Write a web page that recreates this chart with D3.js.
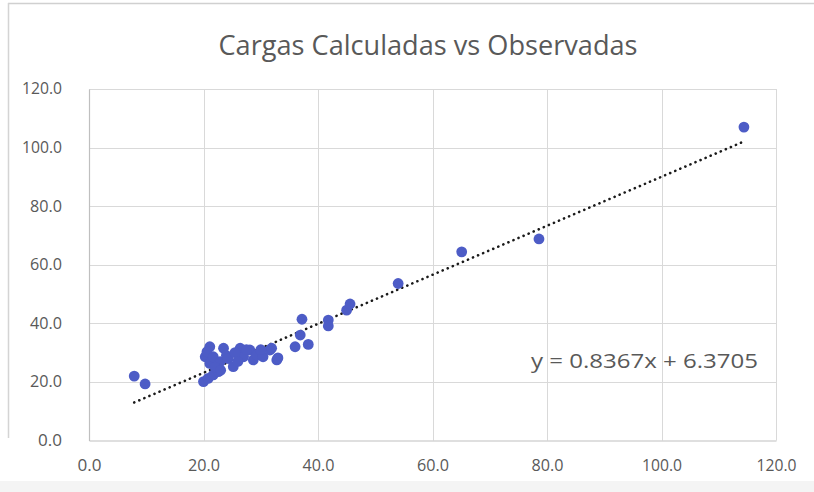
<!DOCTYPE html>
<html>
<head>
<meta charset="utf-8">
<script src="https://cdn.jsdelivr.net/npm/d3@7"></script>
<style>
  html, body { margin: 0; padding: 0; background: #fff; }
  svg { display: block; }
</style>
</head>
<body>
<svg id="chart" width="814" height="492"></svg>
<script>
// Observed loads (x) and calculated loads (y)
const observadas = [7.9, 9.8, 20.0, 20.8, 21.7, 22.6, 20.3, 21.1, 20.6, 21.1, 21.7, 22.9, 23.5, 24.0, 24.3,
  25.2, 26.4, 27.0, 28.1, 28.7, 29.3, 30.4, 31.6, 32.8, 31.9, 33.0, 36.0, 36.9, 37.2, 38.3, 41.8, 41.8,
  45.0, 45.6, 54.0, 65.1, 78.6, 114.4, 22.0, 25.5, 27.5, 26.0, 30.0, 23.0];
const calculadas = [22.0, 19.3, 20.1, 21.2, 22.4, 23.5, 28.6, 32.0, 30.3, 26.3, 28.6, 26.9, 31.5, 29.0, 28.0,
  25.2, 31.5, 28.6, 30.9, 27.5, 29.2, 28.6, 30.9, 27.5, 31.5, 28.2, 32.0, 36.0, 41.4, 32.8, 41.1, 39.1,
  44.5, 46.6, 53.6, 64.4, 68.8, 107.0, 25.0, 30.0, 31.0, 27.0, 31.0, 24.0];

// Linear trend line coefficients
const slope = 0.8367;
const intercept = 6.3705;

const xTicks = [0, 20, 40, 60, 80, 100, 120];
const yTicks = [0, 20, 40, 60, 80, 100, 120];

const titleText = "Cargas Calculadas vs Observadas";
const equationText = "y = 0.8367x + 6.3705";

const svg = d3.select("#chart");
const W = 814, H = 492;
const plot = { left: 89, right: 776, top: 89, bottom: 440.5 };

const x = d3.scaleLinear().domain([0, 120]).range([plot.left, plot.right]);
const y = d3.scaleLinear().domain([0, 120]).range([plot.bottom, plot.top]);

const font = "'Open Sans', 'Liberation Sans', sans-serif";
const fmt = d3.format(".1f");

// Chart frame
svg.append("rect").attr("x", 0).attr("y", 0).attr("width", W).attr("height", H).attr("fill", "#fff");
svg.append("line").attr("x1", 8).attr("x2", 814).attr("y1", 3.5).attr("y2", 3.5)
  .attr("stroke", "#d0d0d0").attr("stroke-width", 1.5);
svg.append("line").attr("x1", 8.5).attr("x2", 8.5).attr("y1", 3).attr("y2", 438)
  .attr("stroke", "#d4d4d4").attr("stroke-width", 1.5);
svg.append("rect").attr("x", 0).attr("y", 481).attr("width", W).attr("height", 11).attr("fill", "#f4f4f4");

// Gridlines
const grid = svg.append("g");
grid.selectAll("line.v").data(xTicks.slice(1)).join("line")
  .attr("x1", d => Math.round(x(d)) + 0.5).attr("x2", d => Math.round(x(d)) + 0.5)
  .attr("y1", plot.top).attr("y2", plot.bottom)
  .attr("stroke", "#d9d9d9").attr("stroke-width", 1);
grid.selectAll("line.h").data(yTicks.slice(1)).join("line")
  .attr("x1", plot.left).attr("x2", plot.right)
  .attr("y1", d => Math.round(y(d)) + 0.5).attr("y2", d => Math.round(y(d)) + 0.5)
  .attr("stroke", "#d9d9d9").attr("stroke-width", 1);

// Axes
const xAxis = svg.append("g").attr("transform", `translate(0,${plot.bottom})`)
  .call(d3.axisBottom(x).tickValues(xTicks).tickFormat(fmt).tickSize(0).tickPadding(19));
const yAxis = svg.append("g").attr("transform", `translate(${plot.left},0)`)
  .call(d3.axisLeft(y).tickValues(yTicks).tickFormat(fmt).tickSize(0).tickPadding(27));
[xAxis, yAxis].forEach(g => {
  g.select(".domain").attr("stroke", "#bfbfbf").attr("stroke-width", 1.2);
  g.selectAll("text").attr("fill", "#595959").attr("font-family", font).attr("font-size", 15.5);
});
yAxis.selectAll("text").attr("textLength", function () { return this.textContent.length * 8; })
  .attr("lengthAdjust", "spacingAndGlyphs");
xAxis.selectAll("text").attr("textLength", function () { return this.textContent.length * 8; })
  .attr("lengthAdjust", "spacingAndGlyphs");

// Trend line across the observed range
const [xmin, xmax] = d3.extent(observadas);
svg.append("line")
  .attr("x1", x(xmin)).attr("y1", y(slope * xmin + intercept))
  .attr("x2", x(xmax)).attr("y2", y(slope * xmax + intercept))
  .attr("stroke", "#1a1a1a").attr("stroke-width", 2.6)
  .attr("stroke-linecap", "round").attr("stroke-dasharray", "0.1 5.4");

// Points
svg.append("g").selectAll("circle").data(observadas.map((d, i) => [d, calculadas[i]])).join("circle")
  .attr("cx", d => x(d[0])).attr("cy", d => y(d[1])).attr("r", 5.4)
  .attr("fill", "#4d5cc6");

// Title
svg.append("text").attr("x", 428).attr("y", 55).attr("text-anchor", "middle")
  .attr("font-family", font).attr("font-size", 27).attr("fill", "#595959")
  .attr("textLength", 419).attr("lengthAdjust", "spacingAndGlyphs")
  .text(titleText);

// Trend line equation
svg.append("text").attr("x", 531).attr("y", 368)
  .attr("font-family", font).attr("font-size", 20.5).attr("fill", "#595959")
  .attr("textLength", 227).attr("lengthAdjust", "spacingAndGlyphs")
  .text(equationText);
</script>
</body>
</html>
